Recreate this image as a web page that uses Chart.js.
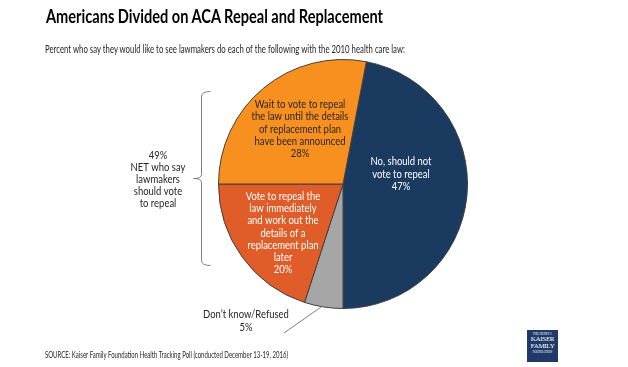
<!DOCTYPE html>
<html>
<head>
<meta charset="utf-8">
<script src="https://cdn.jsdelivr.net/npm/chart.js@4"></script>
<style>
  html, body { margin: 0; padding: 0; background: #fff; }
  #wrap { position: relative; width: 628px; height: 367px; overflow: hidden; font-family: Lato, "Open Sans", sans-serif; color: #1a1a1a; }
  #wrap canvas { position: absolute; left: 0; top: 0; }
  .txt { position: absolute; white-space: nowrap; transform-origin: 0 0; }
  #title { left: 46px; top: 4px; font-size: 19px; font-weight: bold; color: #000; }
  #subtitle { left: 45px; top: 43px; font-size: 10.5px; color: #262626; }
  #source { left: 45px; top: 349px; font-size: 9px; color: #262626; }
  #logo { position: absolute; left: 527px; top: 330px; width: 31px; height: 32px; background: #1f3a68; color: #fff;
          font-family: "Liberation Serif", "DejaVu Serif", serif; text-align: center; line-height: 1; }
  #logo .s { font-size: 3px; display: block; margin-top: 3px; }
  #logo .b { font-size: 7px; display: block; letter-spacing: -0.3px; }
</style>
</head>
<body>
<div id="wrap">
  <canvas id="pieChart" width="628" height="367"></canvas>
  <div id="title" class="txt" data-w="337">Americans Divided on ACA Repeal and Replacement</div>
  <div id="subtitle" class="txt" data-w="360">Percent who say they would like to see lawmakers do each of the following with the 2010 health care law:</div>
  <div id="source" class="txt" data-w="243">SOURCE: Kaiser Family Foundation Health Tracking Poll (conducted December 13-19, 2016)</div>
  <div id="logo"><span class="s">THE HENRY J.</span><span class="b">KAISER</span><span class="b">FAMILY</span><span class="s" style="margin-top:1px">FOUNDATION</span></div>
</div>
<script>
// data
const categories = [
    'No, should not vote to repeal',
    "Don't know/Refused",
    'Vote to repeal the law immediately and work out the details of a replacement plan later',
    'Wait to vote to repeal the law until the details of replacement plan have been announced'
];
const values = [47, 5, 20, 28];
const sliceLabelLines = [
    ['No, should not', 'vote to repeal', '47%'],
    ["Don\u2019t know/Refused", '5%'],
    ['Vote to repeal the', 'law immediately', 'and work out the', 'details of a', 'replacement plan', 'later', '20%'],
    ['Wait to vote to repeal', 'the law until the details', 'of replacement plan', 'have been announced', '28%']
];
const netValue = 49;
const netLines = ['NET who say', 'lawmakers', 'should vote', 'to repeal'];

// styling
const sliceColors = ['#1b3a5f', '#a6a6a6', '#e05d2a', '#f8901f'];
const labelColors = ['#ffffff', '#262626', '#ffffff', '#262626'];
// label centre offsets from the pie centre, in px
const labelOffsets = [[58, -10], null, [-60, 49], [-43, -55]];
const lineHeight = 12.3;
const labelFont = '11px Lato, "Open Sans", sans-serif';
const squeeze = 0.86; // the original face is narrower than Lato

// fit the html texts to the widths of the original
document.querySelectorAll('.txt').forEach(el => {
    const w = el.getBoundingClientRect().width;
    el.style.transform = `scaleX(${el.dataset.w / w})`;
});

function narrowText(ctx, text, x, y) {
    ctx.save();
    ctx.translate(x, y);
    ctx.scale(squeeze, 1);
    ctx.fillText(text, 0, 0);
    ctx.restore();
}

const sliceLabels = {
    id: 'sliceLabels',
    afterDatasetsDraw(chart) {
        const { ctx } = chart;
        const arcs = chart.getDatasetMeta(0).data;
        const cx = arcs[0].x, cy = arcs[0].y;
        ctx.save();
        ctx.font = labelFont;
        ctx.textAlign = 'center';
        ctx.textBaseline = 'middle';

        arcs.forEach((arc, i) => {
            const off = labelOffsets[i];
            if (!off) return;
            const lines = sliceLabelLines[i];
            const y0 = cy + off[1] - (lines.length - 1) * lineHeight / 2;
            ctx.fillStyle = labelColors[i];
            lines.forEach((line, j) => narrowText(ctx, line, cx + off[0], y0 + j * lineHeight));
        });

        // outside label for the small slice, with a leader line to its edge
        const small = arcs[1];
        const mid = (small.startAngle + small.endAngle) / 2;
        const r = small.outerRadius;
        const ex = cx + r * Math.cos(mid) - 1;
        const ey = cy + r * Math.sin(mid) - 1;
        ctx.fillStyle = labelColors[1];
        narrowText(ctx, sliceLabelLines[1][0], cx - 97, cy + 130);
        narrowText(ctx, sliceLabelLines[1][1], cx - 97, cy + 143);
        ctx.strokeStyle = '#7f7f7f';
        ctx.lineWidth = 1;
        ctx.beginPath();
        ctx.moveTo(cx - 59, cy + 149);
        ctx.lineTo(ex, ey);
        ctx.stroke();

        // curly bracket over the two repeal slices
        const bx = 201.5, top = 91.5, bot = 265.5, tip = 178.5;
        ctx.beginPath();
        ctx.moveTo(bx + 9, top);
        ctx.quadraticCurveTo(bx, top, bx, top + 5);
        ctx.lineTo(bx, tip - 4);
        ctx.quadraticCurveTo(bx, tip, bx - 8, tip);
        ctx.quadraticCurveTo(bx, tip, bx, tip + 4);
        ctx.lineTo(bx, bot - 5);
        ctx.quadraticCurveTo(bx, bot, bx + 9, bot);
        ctx.stroke();

        ctx.fillStyle = '#262626';
        const netText = [netValue + '%', ...netLines];
        netText.forEach((line, j) => narrowText(ctx, line, 158, 155 + j * 12));
        ctx.restore();
    }
};

new Chart(document.getElementById('pieChart'), {
    type: 'pie',
    data: {
        labels: categories,
        datasets: [{
            data: values,
            backgroundColor: sliceColors,
            borderColor: '#404040',
            borderWidth: 1
        }]
    },
    options: {
        responsive: false,
        animation: false,
        // first slice ends at six o'clock
        rotation: 180 - values[0] * 3.6,
        layout: { padding: { left: 218, top: 59, right: 160, bottom: 58 } },
        plugins: {
            legend: { display: false },
            tooltip: { enabled: false }
        }
    },
    plugins: [sliceLabels]
});
</script>
</body>
</html>
